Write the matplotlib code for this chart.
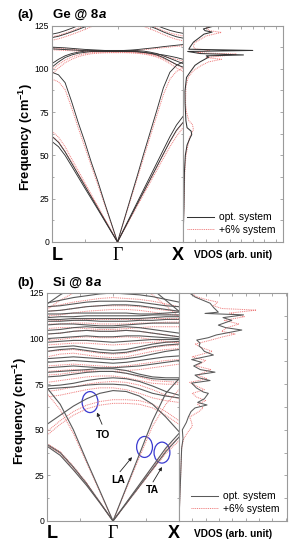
import numpy as np
import matplotlib
matplotlib.use("Agg")
from matplotlib import pyplot as plt
from matplotlib.patches import Ellipse

plt.rcParams['font.family'] = ['Liberation Sans', 'DejaVu Sans']
plt.rcParams['mathtext.fontset'] = 'custom'
plt.rcParams['mathtext.rm'] = 'Liberation Sans'
plt.rcParams['mathtext.bf'] = 'Liberation Sans:bold'

# ---- Ge @ 8a : dispersion on L - Gamma - X (k = 0 .. 1, Gamma at 0.5)
ge_k = [0, .05, .1, .15, .2, .25, .3, .35, .4, .45, .5,
        .55, .6, .65, .7, .75, .8, .85, .9, .95, 1.0]
ge_opt = [
    [58, 55, 50, 43.8, 37.5, 31.2, 25, 18.8, 12.5, 6.2, 0, 7.2, 14.5, 21.8, 29, 36.2, 43.5, 50.8, 58, 64.5, 69],
    [61, 57.5, 52, 45.5, 39, 32.5, 26, 19.5, 13, 6.5, 0, 7.6, 15.2, 22.8, 30.4, 38, 45.6, 53.2, 60.8, 67.5, 72.5],
    [98, 96.5, 92, 81, 69, 58, 46, 35, 23, 11.5, 0, 12.7, 25.4, 38, 51, 63.5, 76, 89, 98, 102, 104],
    [101, 104, 106.5, 108, 109, 109.5, 110, 110, 110, 110, 110, 110, 110, 110, 109.5, 109, 108, 106.5, 104.5, 102.5, 101],
    [103, 105.5, 107.5, 108.8, 109.6, 110.2, 110.5, 110.6, 110.6, 110.6, 110.6, 110.6, 110.6, 110.5, 110.2, 109.6, 108.8, 107.5, 106, 104.5, 103],
    [112.5, 112.3, 112.1, 111.8, 111.5, 111.2, 111, 110.8, 110.6, 110.5, 110.5, 110.6, 110.8, 111.1, 111.5, 111.9, 112.3, 112.8, 113.2, 113.6, 114],
    [111.5, 111.3, 111.1, 110.9, 110.7, 110.5, 110.3, 110.2, 110.1, 110, 110, 110, 110, 109.8, 109.5, 109, 108.5, 108, 107.3, 106.5, 105.5],
    [118, 118.8, 120, 121.3, 122.7, 124.2, 125.8, 127.5, 129, 130, 130.5, 130, 129, 127.5, 126, 124.5, 123, 121.3, 119.8, 118.5, 117.7],
    [120, 120.8, 122, 123.4, 124.9, 126.5, 128, 129.5, 131, 132, 132.5, 132, 131, 129.5, 128, 126.5, 125, 123.5, 122.2, 121.2, 120.5],
]
ge_exp = [
    [61, 58, 52.5, 46, 39.5, 33, 26.4, 19.8, 13.2, 6.6, 0, 6.9, 13.8, 20.7, 27.6, 34.5, 41.4, 48.3, 55, 61, 66],
    [64, 60.5, 55, 48, 41.2, 34.3, 27.4, 20.6, 13.7, 6.9, 0, 7.3, 14.5, 21.8, 29, 36.2, 43.5, 50.7, 58, 64, 69],
    [94, 92.5, 88, 77.5, 66, 55, 44, 33, 22, 11, 0, 12.2, 24.4, 36.6, 48.8, 61, 73, 85, 94, 98.5, 100.5],
    [97, 100.5, 103.5, 105.5, 107, 108, 108.7, 109, 109.2, 109.3, 109.3, 109.3, 109.2, 109, 108.5, 107.8, 106.8, 105.2, 103, 100.5, 98.5],
    [99.5, 102.5, 105, 106.8, 108, 108.8, 109.3, 109.6, 109.8, 109.9, 110, 109.9, 109.8, 109.6, 109.2, 108.5, 107.5, 106, 104.2, 102.3, 100.5],
    [112, 111.8, 111.6, 111.3, 111, 110.7, 110.5, 110.3, 110.1, 110, 110, 110.1, 110.3, 110.6, 111, 111.4, 111.8, 112.2, 112.6, 113, 113.3],
    [111, 110.8, 110.6, 110.4, 110.2, 110, 109.8, 109.7, 109.6, 109.5, 109.5, 109.5, 109.4, 109.2, 108.9, 108.4, 107.8, 107.2, 106.4, 105.5, 104.5],
    [116.5, 117.3, 118.5, 119.8, 121.2, 122.7, 124.3, 126, 127.5, 128.5, 129, 128.5, 127.5, 126, 124.5, 123, 121.5, 119.8, 118.3, 117, 116.2],
    [118.5, 119.3, 120.5, 121.9, 123.4, 125, 126.5, 128, 129.5, 130.5, 131, 130.5, 129.5, 128, 126.5, 125, 123.5, 122, 120.7, 119.7, 119],
]

# Ge VDOS (freq, arb. unit)
ge_dos_f_opt = [0, 20, 40, 50, 56, 60, 62, 64, 66, 70, 80, 87, 95, 98, 102, 104, 106.7, 107.5, 108, 108.8,
                110, 110.6, 111.3, 112.5, 115.4, 118.3, 120, 121.2, 122, 123, 124.6, 125.5]
ge_dos_opt = [0, 0.08, 0.12, 0.2, 0.35, 0.6, 0.75, 0.7, 0.35, 0.25, 0.18, 0.17, 0.3, 0.6, 1.03, 1.47, 2.2, 2.0, 5.2, 1.5,
              0.4, 6.0, 0.5, 0.6, 0.9, 1.47, 1.8, 2.5, 1.9, 1.75, 2.6, 2.2]
ge_dos_f_exp = [0, 20, 40, 50, 55, 60, 65, 68, 70, 75, 80, 90, 95, 99, 102, 104, 105.5, 106.5, 107.5, 108.5,
                109.3, 110, 110.8, 111.5, 113, 115, 117, 119, 121, 122, 123.5, 125.5]
ge_dos_exp = [0, 0.08, 0.15, 0.25, 0.4, 0.55, 0.9, 0.8, 0.5, 0.3, 0.22, 0.25, 0.45, 0.9, 1.6, 2.2, 3.3, 2.0, 3.5, 4.6,
              1.2, 1.8, 2.3, 1.0, 0.9, 1.0, 1.5, 2.0, 3.3, 2.3, 2.0, 2.8]

# ---- Si @ 8a
si_k = [0, .1, .2, .3, .4, .5, .6, .7, .8, .9, 1.0]
si_opt = [
    [41, 36, 28, 19.5, 10, 0, 9.5, 19, 28.5, 38, 46],
    [42, 37.5, 29.5, 20.5, 10.3, 0, 10, 20, 30, 40, 48],
    [73, 64, 50, 33, 16.6, 0, 18.3, 36.6, 55, 70, 78],
    [53, 58, 63, 67, 70, 71.5, 71, 68.5, 64, 57, 49],
    [72.5, 73, 73.5, 74.5, 75, 75, 74.5, 72.5, 70, 68.5, 67.5],
    [74, 74.5, 75.5, 77, 78, 78.5, 78, 76.5, 74, 71, 69],
    [79, 79.5, 80.5, 81.5, 82, 82, 81, 79.5, 78, 77.5, 77.5],
    [81.5, 82, 82.5, 83, 83.5, 83.5, 82.5, 80.5, 79, 78.5, 78.5],
    [84, 84.5, 85, 84.5, 84, 84, 84.5, 85, 86, 87, 88],
    [87, 87.5, 88, 87.5, 87, 86.5, 87, 88, 89, 90, 90.5],
    [89, 89.5, 90, 89.5, 89, 88.5, 89, 90, 91.5, 93, 94],
    [93, 94, 94.5, 93.5, 92.5, 92, 92.5, 94, 95.5, 96.5, 97],
    [95, 95.5, 96, 95, 94, 93.5, 94, 95.5, 97, 98, 98.5],
    [98, 98.5, 99, 99, 98.5, 98, 98.5, 99, 99.5, 99.5, 99.5],
    [100, 100.5, 101, 101.5, 101, 101, 101.5, 101.5, 101, 100.5, 100],
    [102.5, 103, 104, 104.5, 104, 104, 104.5, 104, 103, 102, 101],
    [104.5, 105, 106, 106.5, 106, 106, 106.5, 106, 105, 104, 103],
    [107.5, 108, 108, 107.5, 107, 107, 107.5, 108, 108.5, 108.5, 108.5],
    [109.5, 109.5, 110, 110, 109.5, 109.5, 109.5, 110, 110, 110.5, 110.5],
    [110.5, 110.5, 111, 111, 111, 111, 111, 111, 111.5, 112, 112],
    [111.5, 112, 112, 112.5, 112.5, 112.5, 112.5, 112.5, 113, 113, 113],
    [113.5, 113.5, 114, 114, 114, 114, 114, 113.5, 113.5, 114, 114.5],
    [115, 115.5, 116.5, 117.5, 118, 118.5, 118.5, 118, 117, 116, 115],
    [117.5, 118, 119, 120, 120.5, 120.5, 120.5, 120, 119, 118, 117.5],
    [119.5, 121, 122.5, 123.5, 124.5, 125, 124.5, 124, 123, 121.5, 120],
    [119, 124, 128, 130, 131, 131, 131, 130, 127, 121, 115],
]
si_exp = [
    [41.5, 37, 28.5, 20, 10, 0, 9.3, 18.6, 28, 37, 44],
    [42.5, 38, 30, 21, 10.5, 0, 9.8, 19.6, 29.5, 39, 46],
    [70, 61, 48, 32, 16, 0, 17.5, 35, 52, 64, 72],
    [47, 53, 58, 61.5, 63.5, 64.5, 64.5, 64, 62, 58, 53],
    [49, 55, 60, 63.5, 65.5, 66.5, 66.5, 66, 64, 60, 55],
    [68, 69, 70.5, 72, 73, 73, 72, 70, 67.5, 66, 65],
    [71, 72, 73.5, 75, 76, 76.5, 76, 74.5, 72, 69, 67],
    [76, 77, 78, 79, 79.5, 79.5, 78.5, 77, 75.5, 75, 75],
    [80, 80.5, 81.5, 82, 82, 82, 81, 79, 77, 76.5, 76],
    [82, 82.5, 83, 82.5, 82, 82, 82.5, 83, 84, 85, 86],
    [85, 85.5, 86, 85.5, 85, 84.5, 85, 86, 87, 88, 88.5],
    [90, 91.5, 92, 91, 90, 89.5, 90, 91.5, 93, 94, 94.5],
    [93, 93.5, 94, 93, 92, 91.5, 92, 93.5, 95, 96, 96.5],
    [96.5, 97, 97.5, 97.5, 97, 96.5, 97, 97.5, 98, 98, 98],
    [99, 99.5, 100.5, 101, 100.5, 100.5, 101, 100.5, 99.5, 98.5, 97.5],
    [102.5, 103, 104, 104.5, 104, 104, 104.5, 104, 103, 102, 101],
    [105.5, 106, 106, 105.5, 105, 105, 105.5, 106, 106.5, 106.5, 106.5],
    [108, 108, 108.5, 108.5, 108, 108, 108, 108.5, 108.5, 109, 109],
    [109.5, 110, 110, 110.5, 110.5, 110.5, 110.5, 110.5, 111, 111, 111],
    [112.5, 113, 114, 115, 115.5, 116, 116, 115.5, 114.5, 113.5, 112.5],
    [115, 115.5, 116.5, 117.5, 118, 118, 118, 117.5, 116.5, 115.5, 115],
    [117, 118.5, 120, 121, 122, 122.5, 122, 121.5, 120.5, 119, 117.5],
    [116, 121, 125, 127.5, 128.5, 128.5, 128.5, 127.5, 124, 118, 112],
]

si_dos_f_opt = [0, 10, 20, 30, 40, 45, 50, 54, 57, 60, 62, 63.6, 65, 67, 70, 70.7, 73, 75.6, 77, 78.5, 80, 81.6, 83,
                85, 87, 88.5, 91, 93, 94.8, 96, 97.5, 99.2, 100.5, 102, 104.7, 106, 107.4, 110, 111.5, 113, 113.8,
                114.5, 117, 119.4, 121, 122.8, 125.5]
si_dos_opt = [0, 0.05, 0.1, 0.15, 0.2, 0.3, 0.25, 0.55, 0.7, 0.9, 1.2, 2.1, 1.4, 1.9, 2.2, 1.83, 1.3, 0.95, 2.33, 1.5,
              1.2, 2.7, 1.6, 1.1, 1.7, 0.95, 2.58, 1.9, 1.7, 1.5, 1.58, 1.33, 2.2, 2.8, 4.71, 3.5, 2.95, 3.96, 3.3,
              4.84, 1.95, 2.95, 2.6, 2.33, 1.8, 1.2, 0.7]
si_dos_f_exp = [0, 10, 20, 30, 40, 45, 48, 52, 54, 57, 60, 62, 64, 66, 68, 70, 72, 74, 76, 78, 80, 83, 85, 88, 90,
                93, 95, 97, 99, 101, 102.5, 104, 106, 108, 110, 112, 114, 115.6, 116.5, 118, 120, 121.5, 123, 125.5]
si_dos_exp = [0, 0.05, 0.1, 0.15, 0.2, 0.35, 0.6, 1.0, 0.95, 0.8, 1.5, 1.8, 1.4, 2.0, 1.3, 1.0, 1.9, 1.3, 0.8, 2.1,
              1.4, 2.4, 1.3, 2.0, 1.0, 2.5, 1.7, 1.2, 2.3, 3.3, 4.2, 3.2, 3.6, 4.5, 3.4, 4.9, 3.8, 5.8, 3.2, 2.6,
              2.9, 2.0, 1.3, 0.9]

FIG_W, FIG_H = 296, 550
GRAY = '#9a9a9a'
RED = '#ee7b7b'
DOTS = (0, (1, 0.9))


def px_axes(fig, x0, x1, y_top, y_bot):
    return fig.add_axes([x0 / FIG_W, 1 - y_bot / FIG_H, (x1 - x0) / FIG_W, (y_bot - y_top) / FIG_H])


def style_axes(ax):
    for s in ax.spines.values():
        s.set_color(GRAY)
        s.set_linewidth(0.8)
    ax.tick_params(which='both', direction='in', color=GRAY, labelsize=6.2,
                   top=True, right=True, width=0.6, pad=2)
    ax.tick_params(which='major', length=2.5)
    ax.tick_params(which='minor', length=1.5)


def panel(fig, x0, xd, x1, y_top, y_bot, k, opt, exp, dos_fo, dos_o, dos_fe, dos_e, dos_max, black, lw_b):
    ax = px_axes(fig, x0, xd, y_top, y_bot)
    for f in exp:
        ax.plot(k, f, color=RED, lw=0.7, ls=DOTS)
    for f in opt:
        ax.plot(k, f, color=black, lw=lw_b)
    ax.set_xlim(0, 1)
    ax.set_ylim(0, 125)
    ax.set_yticks([0, 25, 50, 75, 100, 125])
    ax.set_yticks(np.arange(0, 126, 12.5), minor=True)
    ax.set_xticks([0.25, 0.5, 0.75])
    ax.set_xticklabels([])
    style_axes(ax)
    ax.tick_params(right=False)

    axd = px_axes(fig, xd, x1, y_top, y_bot)
    axd.plot(dos_e, dos_fe, color=RED, lw=0.7, ls=DOTS, label='+6% system')
    axd.plot(dos_o, dos_fo, color=black, lw=0.75, label='opt. system')
    axd.set_xlim(0, dos_max)
    axd.set_ylim(0, 125)
    axd.set_xticks(np.arange(1, dos_max, 1))
    axd.set_yticks(np.arange(12.5, 125, 12.5))
    axd.set_xticklabels([])
    axd.set_yticklabels([])
    style_axes(axd)
    axd.tick_params(left=False)
    h, l = axd.get_legend_handles_labels()
    axd.legend(h[::-1], l[::-1], loc='lower right', frameon=False, fontsize=7.4,
               handlelength=2.6, handletextpad=0.5, labelspacing=0.25,
               borderaxespad=0.3)

    yl = 1 - (y_bot + 13) / FIG_H
    fig.text(x0 / FIG_W, yl, 'L', fontsize=13, fontweight='bold', ha='left', va='center')
    fig.text((x0 + xd) / 2 / FIG_W, yl, '\u0393', fontsize=13, family='Liberation Serif',
             ha='center', va='center')
    fig.text((xd - 5) / FIG_W, yl, 'X', fontsize=13, fontweight='bold', ha='center', va='center')
    fig.text((xd + x1) / 2 / FIG_W, yl, 'VDOS (arb. unit)', fontsize=7.3, fontweight='bold',
             ha='center', va='center')
    return ax


def heading(fig, ax, y, tag, name):
    fig.text(17 / FIG_W, 1 - y / FIG_H, tag, fontsize=9.5, fontweight='bold', va='center')
    t = fig.text(53 / FIG_W, 1 - y / FIG_H, name, fontsize=9.5, fontweight='bold', va='center')
    ax.annotate('a', xy=(1, 0), xycoords=t, xytext=(0.5, 0), textcoords='offset points',
                fontsize=9.5, fontweight='bold', style='italic', va='bottom', annotation_clip=False)


fig = plt.figure(figsize=(FIG_W / 100, FIG_H / 100), dpi=100)

ax_a = panel(fig, 52, 183, 283, 25.5, 242, ge_k, ge_opt, ge_exp,
             ge_dos_f_opt, ge_dos_opt, ge_dos_f_exp, ge_dos_exp, 8.6, '#333333', 0.65)
ax_b = panel(fig, 47, 179, 287, 293, 521, si_k, si_opt, si_exp,
             si_dos_f_opt, si_dos_opt, si_dos_f_exp, si_dos_exp, 8.1, '#5a5a5a', 0.8)

heading(fig, ax_a, 15, '(a)', 'Ge @ 8')
heading(fig, ax_b, 283, '(b)', 'Si @ 8')

for yc, xc in [(137, 26), (411, 20)]:
    fig.text(xc / FIG_W, 1 - yc / FIG_H, r'Frequency (cm$^{\mathbf{-1}}$)', rotation=90,
             fontsize=9.3, fontweight='bold', ha='center', va='center')

# annotations on Si panel
BLUE = '#3a3ad0'
for cx, cy in [(0.326, 65.2), (0.739, 40.6), (0.871, 37.5)]:
    ax_b.add_patch(Ellipse((cx, cy), 0.12, 11.5, fill=False, ec=BLUE, lw=0.9))
for lab, txy, tail, head in [('TO', (0.424, 47.1), (0.417, 53.0), (0.379, 59.5)),
                             ('LA', (0.538, 22.5), (0.553, 27.0), (0.644, 35.0)),
                             ('TA', (0.795, 17.0), (0.803, 21.4), (0.871, 29.6))]:
    ax_b.annotate('', xy=head, xytext=tail,
                  arrowprops=dict(arrowstyle='-|>', lw=0.6, color='#222222', mutation_scale=5,
                                  shrinkA=0, shrinkB=0))
    ax_b.text(txy[0], txy[1], lab, fontsize=7.5, fontweight='bold', ha='center', va='center')

fig.savefig('out.png', dpi=100)
